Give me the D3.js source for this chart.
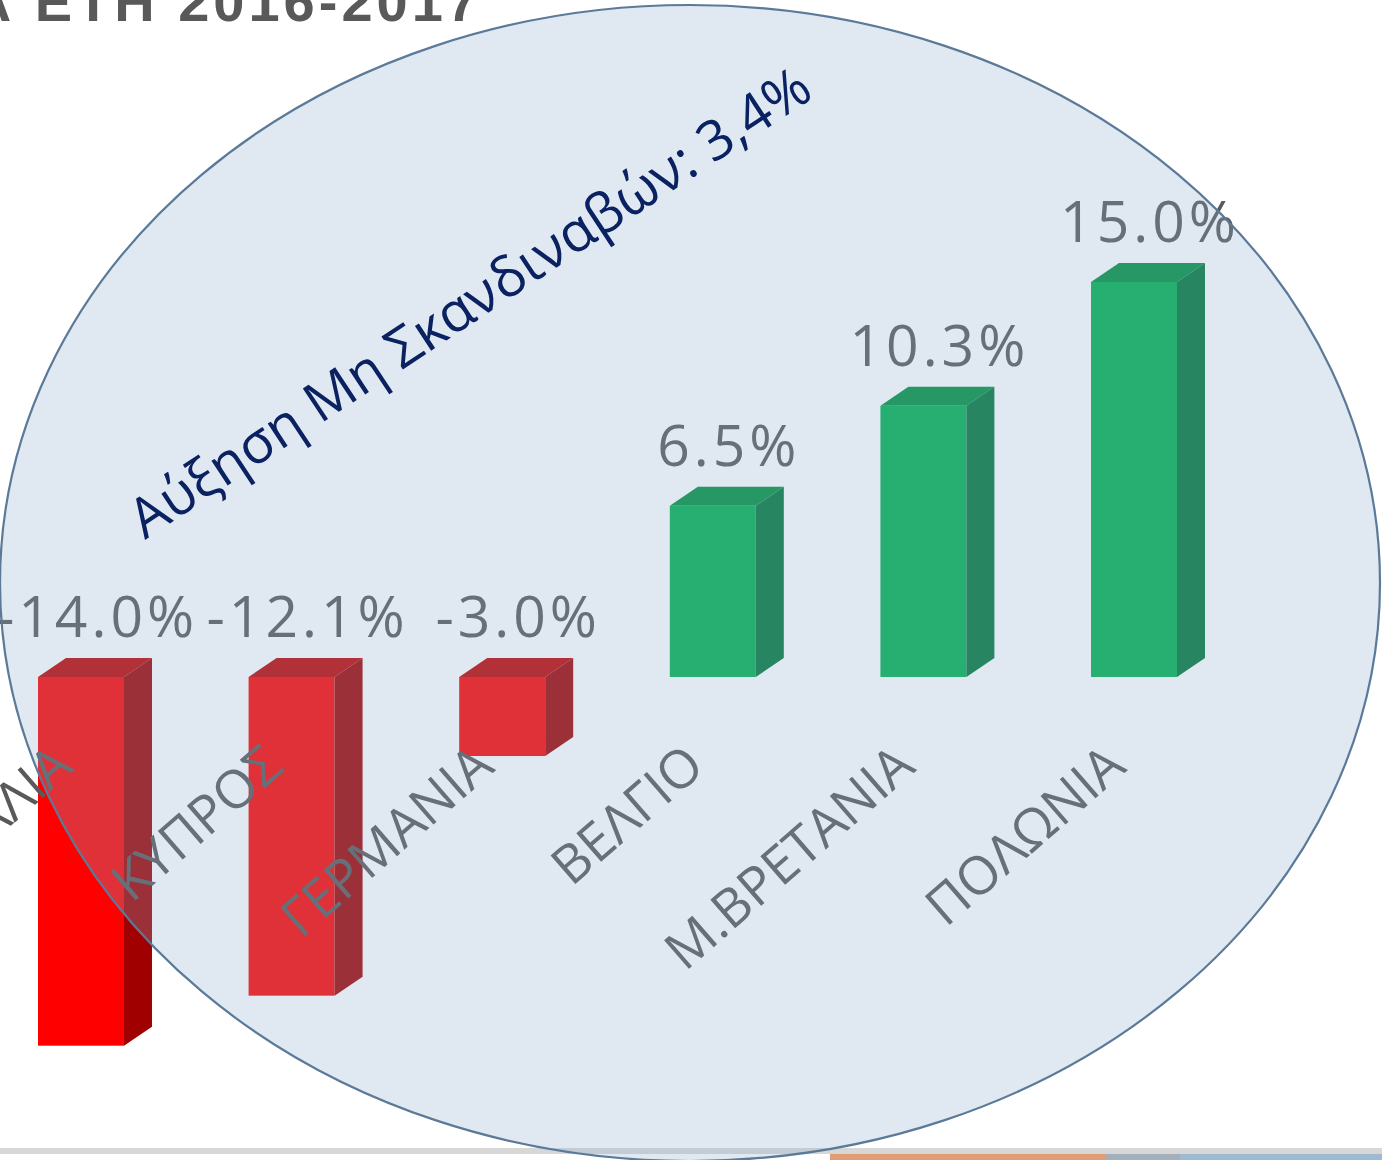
<!DOCTYPE html>
<html>
<head>
<meta charset="utf-8">
<script src="https://cdn.jsdelivr.net/npm/d3@7"></script>
<style>
html,body{margin:0;padding:0;background:#fff;overflow:hidden;}
svg{display:block;}
</style>
</head>
<body>
<svg id="chart" width="1382" height="1160"></svg>
<script>
// ---- data ----
const categories = ["ΙΤΑΛΙΑ", "ΚΥΠΡΟΣ", "ΓΕΡΜΑΝΙΑ", "ΒΕΛΓΙΟ", "Μ.ΒΡΕΤΑΝΙΑ", "ΠΟΛΩΝΙΑ"];
const values = [-14.0, -12.1, -3.0, 6.5, 10.3, 15.0];
const valueLabels = ["-14.0%", "-12.1%", "-3.0%", "6.5%", "10.3%", "15.0%"];
const titleText = "Α ΕΤΗ 2016-2017";
const annotationText = "Αύξηση Μη Σκανδιναβών: 3,4%";

const W = 1382, H = 1160;
const svg = d3.select("#chart");

const x = d3.scaleBand().domain(categories)
  .range([-67.3, 1282.3]).paddingInner(0.5917).paddingOuter(0.5);
const y = d3.scaleLinear().domain([-14, 15]).range([1045.7, 282]);

const DX = 28, DY = 19;
const colors = {
  neg: {front: "#ff0000", top: "#c00000", side: "#a00000"},
  pos: {front: "#00b050", top: "#008e3e", side: "#00753a"}
};

// title (cropped at the top)
svg.append("text")
  .attr("x", 482).attr("y", 21)
  .attr("text-anchor", "end")
  .attr("font-family", "Liberation Sans, Arial, sans-serif")
  .attr("font-weight", "bold")
  .attr("font-size", 56)
  .attr("letter-spacing", 4)
  .attr("fill", "#595959")
  .text(titleText);

// bottom decoration strips (next slide elements)
svg.append("rect").attr("x", 0).attr("y", 1148).attr("width", W).attr("height", 6).attr("fill", "#d7d7d7");
svg.append("rect").attr("x", 830).attr("y", 1154).attr("width", 275).attr("height", 6).attr("fill", "#e09c72");
svg.append("rect").attr("x", 1105).attr("y", 1154).attr("width", 75).attr("height", 6).attr("fill", "#a3afbb");
svg.append("rect").attr("x", 1180).attr("y", 1154).attr("width", 202).attr("height", 6).attr("fill", "#9fbad0");

// bars
const data = categories.map((c, i) => ({c, v: values[i], lab: valueLabels[i]}));
const bars = svg.append("g");
data.forEach(d => {
  const x0 = x(d.c), w = x.bandwidth();
  const top = Math.min(y(d.v), y(0));
  const bot = Math.max(y(d.v), y(0));
  const col = d.v < 0 ? colors.neg : colors.pos;
  bars.append("rect").attr("x", x0).attr("y", top).attr("width", w).attr("height", bot - top).attr("fill", col.front);
  bars.append("path").attr("d", `M${x0},${top}L${x0+DX},${top-DY}L${x0+w+DX},${top-DY}L${x0+w},${top}Z`).attr("fill", col.top);
  bars.append("path").attr("d", `M${x0+w},${top}L${x0+w+DX},${top-DY}L${x0+w+DX},${bot-DY}L${x0+w},${bot}Z`).attr("fill", col.side);
});

// value labels
svg.append("g").selectAll("text").data(data).join("text")
  .attr("x", d => x(d.c) + x.bandwidth()/2 + DX/2 + 2)
  .attr("y", d => Math.min(y(d.v), y(0)) - DY - 21)
  .attr("text-anchor", "middle")
  .attr("font-family", "Open Sans, sans-serif")
  .attr("font-size", 57)
  .attr("letter-spacing", 4)
  .attr("fill", "#595959")
  .text(d => d.lab);

// category labels (rotated)
svg.append("g").selectAll("text").data(data).join("text")
  .attr("transform", d => `translate(${x(d.c) + x.bandwidth()/2 - 6},${770}) rotate(-41)`)
  .attr("text-anchor", "end")
  .attr("font-family", "Open Sans, sans-serif")
  .attr("font-size", 53)
  .attr("fill", "#595959")
  .text(d => d.c);

// translucent ellipse overlay
svg.append("ellipse")
  .attr("cx", 690).attr("cy", 583).attr("rx", 690).attr("ry", 578)
  .attr("fill", "rgb(142,174,204)").attr("fill-opacity", 0.275)
  .attr("stroke", "#5b7a99").attr("stroke-width", 2.2);

// annotation
svg.append("text")
  .attr("transform", "translate(145,540) rotate(-33.5)")
  .attr("font-family", "Open Sans, sans-serif")
  .attr("font-size", 55)
  .attr("fill", "#0a2162")
  .text(annotationText);
</script>
</body>
</html>
